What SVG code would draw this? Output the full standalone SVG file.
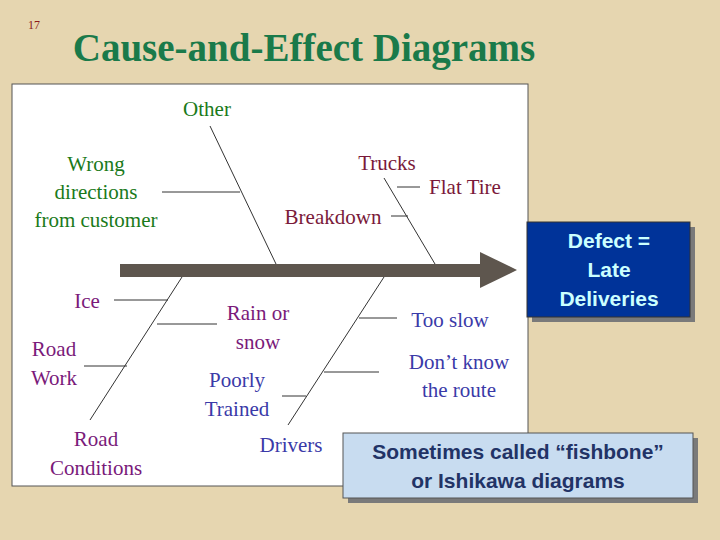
<svg xmlns="http://www.w3.org/2000/svg" width="720" height="540" viewBox="0 0 720 540">
<style>
.g{fill:#1a7a1a}.r{fill:#7a1a3a}.p{fill:#7a1a7a}.b{fill:#3a3aa8}
.s{fill:#7a7a7a}
line{stroke:#333;stroke-width:1}
</style>
<rect width="720" height="540" fill="#e6d6b0"/>
<text x="28" y="29" font-family="Liberation Serif, serif" font-size="12" fill="#8b1a1a">17</text>
<text x="304" y="61" font-family="Liberation Serif, serif" font-size="39" font-weight="bold" fill="#1a7a4a" text-anchor="middle">Cause-and-Effect Diagrams</text>
<rect x="12" y="84" width="516" height="402" fill="#fff" stroke="#555"/>
<g id="connectors">
<rect x="120" y="264" width="362" height="13" fill="#5e564e"/>
<polygon points="480,252 517,270 480,288" fill="#5e564e"/>
<line x1="210" y1="126" x2="276" y2="264"/>
<line x1="162" y1="192" x2="240" y2="192"/>
<line x1="384" y1="178" x2="435" y2="264"/>
<line x1="397" y1="187" x2="420" y2="187"/>
<line x1="391" y1="216" x2="408" y2="216"/>
<line x1="182" y1="277" x2="90" y2="420"/>
<line x1="114" y1="300" x2="168" y2="300"/>
<line x1="157" y1="324" x2="217" y2="324"/>
<line x1="84" y1="366" x2="127" y2="366"/>
<line x1="384" y1="277" x2="288" y2="425"/>
<line x1="359" y1="318" x2="397" y2="318"/>
<line x1="324" y1="372" x2="379" y2="372"/>
<line x1="282" y1="396" x2="306" y2="396"/>
</g>
<g font-family="Liberation Serif, serif" font-size="21" text-anchor="middle">
<g id="other"><text class="g" x="207" y="116">Other</text></g>
<g id="wrong"><text class="g" x="96" y="171">Wrong</text><text class="g" x="96" y="199">directions</text><text class="g" x="96" y="227">from customer</text></g>
<g id="trucks"><text class="r" x="387" y="170">Trucks</text></g>
<g id="flat"><text class="r" x="465" y="194">Flat Tire</text></g>
<g id="breakdown"><text class="r" x="333" y="224">Breakdown</text></g>
<g id="ice"><text class="p" x="87" y="308">Ice</text></g>
<g id="rain"><text class="p" x="258" y="320">Rain or</text><text class="p" x="258" y="349">snow</text></g>
<g id="roadwork"><text class="p" x="54" y="356">Road</text><text class="p" x="54" y="385">Work</text></g>
<g id="roadcond"><text class="p" x="96" y="446">Road</text><text class="p" x="96" y="475">Conditions</text></g>
<g id="tooslow"><text class="b" x="450" y="327">Too slow</text></g>
<g id="dontknow"><text class="b" x="459" y="369">Don’t know</text><text class="b" x="459" y="397">the route</text></g>
<g id="poorly"><text class="b" x="237" y="387">Poorly</text><text class="b" x="237" y="416">Trained</text></g>
<g id="drivers"><text class="b" x="291" y="452">Drivers</text></g>
</g>
<g font-family="Liberation Sans, sans-serif" font-weight="bold" font-size="21" text-anchor="middle">
<g id="defect">
<rect x="532" y="227" width="163" height="95" class="s"/>
<rect x="527" y="222" width="163" height="95" fill="#003399" stroke="#333"/>
<text x="609" y="248" fill="#ccffff">Defect =</text>
<text x="609" y="277" fill="#ccffff">Late</text>
<text x="609" y="306" fill="#ccffff">Deliveries</text>
</g>
<g id="note">
<rect x="348" y="438" width="350" height="65" class="s"/>
<rect x="343" y="433" width="350" height="65" fill="#c8dcf0" stroke="#555"/>
<text x="518" y="459" fill="#223366">Sometimes called “fishbone”</text>
<text x="518" y="488" fill="#223366">or Ishikawa diagrams</text>
</g>
</g>
</svg>
